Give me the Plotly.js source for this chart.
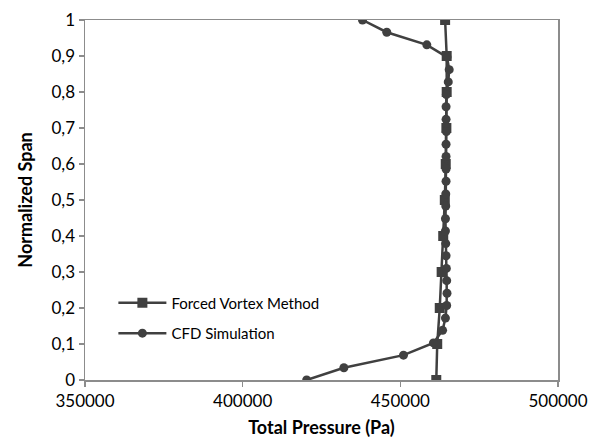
<!DOCTYPE html>
<html>
<head>
<meta charset="utf-8">
<script src="https://cdn.plot.ly/plotly-3.0.1.min.js"></script>
<style>html,body{margin:0;padding:0;background:#fff;}#chart{width:593px;height:443px;}</style>
</head>
<body>
<div id="chart"></div>
<script>
// Forced Vortex Method (squares)
const fvSpan = [0, 0.1, 0.2, 0.3, 0.4, 0.5, 0.6, 0.7, 0.8, 0.9, 1.0];
const fvPressure = [461400, 461700, 462500, 463100, 463600, 464100, 464400, 464600, 464700, 464700, 464200];

// CFD Simulation (circles)
const cfdSpan = [0, 0.034, 0.069, 0.103, 0.138, 0.172, 0.207, 0.241, 0.276, 0.310, 0.345, 0.379, 0.414, 0.448, 0.483, 0.517, 0.552, 0.586, 0.621, 0.655, 0.690, 0.724, 0.759, 0.793, 0.828, 0.862, 0.897, 0.931, 0.966, 1.0];
const cfdPressure = [420300, 432100, 451000, 460500, 463400, 464300, 464700, 464800, 464700, 464600, 464500, 464400, 464300, 464300, 464400, 464400, 464500, 464500, 464500, 464500, 464600, 464500, 464500, 464600, 465200, 465500, 464800, 458400, 445700, 438000];

// Axis ticks
const xTickVals = [350000, 400000, 450000, 500000];
const xTickText = ["350000", "400000", "450000", "500000"];
const yTickVals = [0, 0.1, 0.2, 0.3, 0.4, 0.5, 0.6, 0.7, 0.8, 0.9, 1];
const yTickText = ["0", "0,1", "0,2", "0,3", "0,4", "0,5", "0,6", "0,7", "0,8", "0,9", "1"];

const seriesNames = ["Forced Vortex Method", "CFD Simulation"];
const xTitle = "Total Pressure (Pa)";
const yTitle = "Normalized Span";

const ink = "#404040";
const fam = "Lato, 'Open Sans', sans-serif";
const traces = [
  {x: fvPressure, y: fvSpan, name: seriesNames[0], legendgroup: "a", type: "scatter", mode: "lines+markers",
   line: {color: ink, width: 2.5}, marker: {symbol: "square", size: 10, color: ink}},
  {x: cfdPressure, y: cfdSpan, name: seriesNames[1], legendgroup: "b", type: "scatter", mode: "lines+markers",
   line: {color: ink, width: 2.5}, marker: {symbol: "circle", size: 9, color: ink}}
];

const axisFont = {family: fam, size: 17, color: "#000"};
const layout = {
  width: 593, height: 443,
  margin: {l: 85, r: 35, t: 20, b: 63},
  paper_bgcolor: "#fff", plot_bgcolor: "#fff",
  showlegend: true,
  legend: {x: 0.06, y: 0.26, xanchor: "left", yanchor: "top", bgcolor: "rgba(0,0,0,0)",
           itemwidth: 48, tracegroupgap: 8,
           font: {family: fam, size: 15, color: "#000"}},
  xaxis: {range: [350000, 500000], tickvals: xTickVals, ticktext: xTickText, tickfont: axisFont,
          showgrid: false, zeroline: false, showline: true, linecolor: "#8c8c8c", linewidth: 1.5, mirror: true,
          ticks: "outside", ticklen: 5, tickcolor: "#8c8c8c", tickwidth: 1.5,
          title: {text: "<b>" + xTitle + "</b>", font: {family: fam, size: 18, color: "#000"}, standoff: 11}},
  yaxis: {range: [0, 1], tickvals: yTickVals, ticktext: yTickText, tickfont: axisFont,
          showgrid: false, zeroline: false, showline: true, linecolor: "#8c8c8c", linewidth: 1.5, mirror: true,
          ticks: "outside", ticklen: 5, tickcolor: "#8c8c8c", tickwidth: 1.5,
          title: {text: "<b>" + yTitle + "</b>", font: {family: fam, size: 18, color: "#000"}, standoff: 14}}
};

Plotly.newPlot("chart", traces, layout, {displayModeBar: false, staticPlot: true});
</script>
</body>
</html>
